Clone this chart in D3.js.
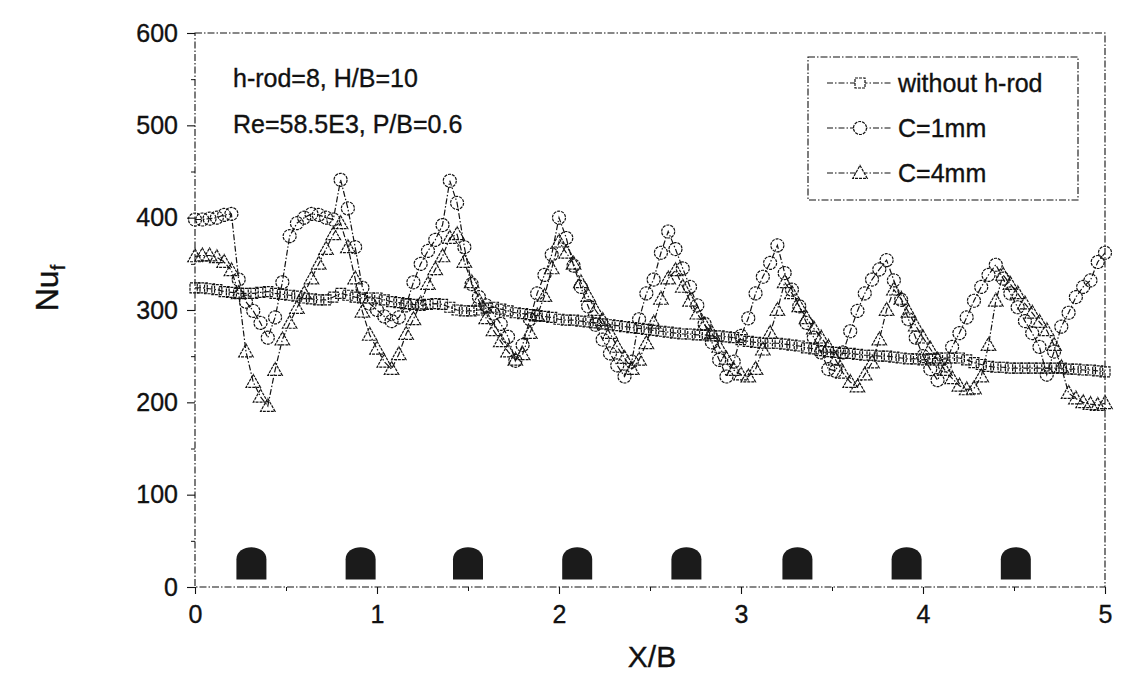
<!DOCTYPE html>
<html>
<head>
<meta charset="utf-8">
<script src="https://cdn.jsdelivr.net/npm/d3@7/dist/d3.min.js"></script>
<style>
  html, body { margin: 0; padding: 0; background: #fff; }
  svg { display: block; font-family: "Liberation Sans", Arial, sans-serif; }
  text { stroke: #111; stroke-width: 0.35px; }
</style>
</head>
<body>
<svg id="chart" width="1124" height="686"></svg>
<script>
// ---------- DATA ----------
const xValues = [0,0.04,0.08,0.12,0.16,0.2,0.24,0.28,0.32,0.36,0.4,0.44,0.48,0.52,0.56,0.6,0.64,0.68,0.72,0.76,
  0.8,0.84,0.88,0.92,0.96,1,1.04,1.08,1.12,1.16,1.2,1.24,1.28,1.32,1.36,1.4,1.44,1.48,1.52,1.56,
  1.6,1.64,1.68,1.72,1.76,1.8,1.84,1.88,1.92,1.96,2,2.04,2.08,2.12,2.16,2.2,2.24,2.28,2.32,2.36,
  2.4,2.44,2.48,2.52,2.56,2.6,2.64,2.68,2.72,2.76,2.8,2.84,2.88,2.92,2.96,3,3.04,3.08,3.12,3.16,
  3.2,3.24,3.28,3.32,3.36,3.4,3.44,3.48,3.52,3.56,3.6,3.64,3.68,3.72,3.76,3.8,3.84,3.88,3.92,3.96,
  4,4.04,4.08,4.12,4.16,4.2,4.24,4.28,4.32,4.36,4.4,4.44,4.48,4.52,4.56,4.6,4.64,4.68,4.72,4.76,
  4.8,4.84,4.88,4.92,4.96,5];

// without h-rod (squares)
const withoutRod = [324,324,323,322,320,319,318,318,318,319,320,318,317,316,315,313,312,311,311,314,
  318,316,314,313,313,313,311,309,308,307,306,305,306,307,306,303,300,299,299,300,
  302,303,301,299,297,296,295,294,293,292,290,289,289,288,287,286,285,284,283,282,
  281,280,279,278,277,276,275,274,274,273,273,272,272,271,270,268,266,265,264,264,
  264,263,262,261,259,258,256,255,254,253,253,252,251,251,250,250,249,248,247,247,
  246,247,248,248,248,248,246,243,241,239,238,238,237,237,237,237,237,237,237,237,
  236,236,235,235,234,233];

// C=1mm (circles)
const c1mm = [398,398,399,400,403,404,333,309,299,286,270,292,330,380,394,400,404,403,400,398,
  441,410,368,324,307,300,293,288,292,305,330,350,364,376,392,440,416,368,328,314,
  305,296,285,271,245,262,290,318,338,360,400,378,348,325,304,284,268,253,240,228,
  244,290,318,333,362,385,366,345,325,305,285,265,246,228,244,272,291,318,336,351,
  370,340,322,304,286,270,254,236,234,254,277,299,318,333,344,354,332,311,290,270,
  250,236,224,240,260,275,292,310,325,338,349,334,318,303,288,275,260,230,255,282,
  297,314,325,332,352,362];

// C=4mm (triangles)
const c4mm = [358,359,359,357,352,343,318,255,222,206,196,235,268,286,302,318,334,350,366,382,
  394,368,334,298,273,258,244,236,252,274,290,307,328,344,358,378,382,352,330,310,
  291,278,266,255,246,252,275,294,315,345,374,362,350,330,315,300,289,275,260,248,
  236,246,264,286,312,334,343,325,310,296,284,275,260,247,235,230,228,236,257,275,
  300,330,318,304,291,280,270,260,246,232,222,217,230,243,268,300,322,312,298,283,
  270,258,246,235,226,218,214,215,228,262,310,338,328,318,307,297,287,278,262,238,
  210,204,200,198,197,199];

// h-rod positions (X/B)
const rodPositions = [0.31, 0.91, 1.5, 2.1, 2.7, 3.31, 3.91, 4.51];
const rodHeight = [8, 43];   // Nu_f extent of the rod symbols

const xTicks = [0, 1, 2, 3, 4, 5];
const yTicks = [0, 100, 200, 300, 400, 500, 600];
const legendLabels = ["without h-rod", "C=1mm", "C=4mm"];
const annotations = ["h-rod=8, H/B=10", "Re=58.5E3, P/B=0.6"];

// ---------- CHART ----------
const svg = d3.select("#chart");
const L = 195, R = 1105, T = 33, B = 587;
const x = d3.scaleLinear().domain([0, 5]).range([L, R]);
const y = d3.scaleLinear().domain([0, 600]).range([B, T]);
const ink = "#111";

// frame
const frameDash = "7,2,1.5,2";
svg.append("rect").attr("x", L).attr("y", T).attr("width", R - L).attr("height", B - T)
  .attr("fill", "none").attr("stroke", ink).attr("stroke-width", 1.1).attr("stroke-dasharray", frameDash);

// axes
const xAxis = d3.axisBottom(x).tickValues(xTicks).tickFormat(d3.format("d")).tickSize(7).tickPadding(6);
const gx = svg.append("g").attr("transform", `translate(0,${B})`).call(xAxis);
const yAxis = d3.axisLeft(y).tickValues(yTicks).tickFormat(d3.format("d")).tickSize(8).tickPadding(9);
const gy = svg.append("g").attr("transform", `translate(${L},0)`).call(yAxis);
[gx, gy].forEach(g => {
  g.select(".domain").remove();
  g.selectAll(".tick line").attr("stroke", ink).attr("stroke-width", 1.1);
  g.selectAll(".tick text").attr("fill", ink).style("font-size", "25px")
    .style("font-family", "'Liberation Sans', Arial, sans-serif");
});
gx.selectAll(".tick text").attr("dy", "0.9em");
// minor ticks
const xMinor = d3.axisBottom(x).tickValues([0.5,1.5,2.5,3.5,4.5]).tickFormat("").tickSize(4);
svg.append("g").attr("transform", `translate(0,${B})`).call(xMinor)
  .call(g => { g.select(".domain").remove(); g.selectAll("line").attr("stroke", ink); });
const yMinor = d3.axisLeft(y).tickValues([50,150,250,350,450,550]).tickFormat("").tickSize(4);
svg.append("g").attr("transform", `translate(${L},0)`).call(yMinor)
  .call(g => { g.select(".domain").remove(); g.selectAll("line").attr("stroke", ink); });

// axis titles
svg.append("text").attr("x", (L + R) / 2 + 2).attr("y", 667).attr("text-anchor", "middle")
  .attr("fill", ink).style("font-size", "30px").text("X/B");
const yt = svg.append("text").attr("transform", `translate(58,${(T + B) / 2 - 22}) rotate(-90)`)
  .attr("text-anchor", "middle").attr("fill", ink).style("font-size", "32px");
yt.append("tspan").text("Nu");
yt.append("tspan").attr("dy", 7).style("font-size", "20px").text("f");

// annotations
annotations.forEach((t, i) => {
  svg.append("text").attr("x", 233).attr("y", 87 + i * 46).attr("fill", ink)
    .style("font-size", "25px").text(t);
});

// rods
const rodW = 30, rodR = 15;
svg.append("g").selectAll("path").data(rodPositions).join("path")
  .attr("d", d => {
    const cx = x(d), yb = y(rodHeight[0]), yt2 = y(rodHeight[1]);
    return `M${cx - rodW/2},${yb} L${cx - rodW/2},${yt2 + rodR*0.8} ` +
      `C${cx - rodW/2},${yt2 - 4} ${cx + rodW/2},${yt2 - 4} ${cx + rodW/2},${yt2 + rodR*0.8} L${cx + rodW/2},${yb} Z`;
  })
  .attr("fill", "#1b1b1b");

// series
const series = [
  { name: legendLabels[0], values: withoutRod, shape: "square" },
  { name: legendLabels[1], values: c1mm, shape: "circle" },
  { name: legendLabels[2], values: c4mm, shape: "triangle" }
];
const line = d3.line().x((d, i) => x(xValues[i])).y(d => y(d));
const lineDash = "6,2,1.5,2";
const markDash = "3,1";

function drawMarker(g, shape, cx, cy) {
  if (shape === "circle") {
    g.append("circle").attr("cx", cx).attr("cy", cy).attr("r", 6.5);
  } else if (shape === "square") {
    g.append("rect").attr("x", cx - 5).attr("y", cy - 5).attr("width", 10).attr("height", 10);
  } else {
    const s = 7.6;
    g.append("path").attr("d", `M${cx},${cy - s} L${cx + s * 0.95},${cy + s * 0.7} L${cx - s * 0.95},${cy + s * 0.7} Z`);
  }
}

series.forEach(s => {
  svg.append("path").datum(s.values).attr("d", line)
    .attr("fill", "none").attr("stroke", ink).attr("stroke-width", 1.2).attr("stroke-dasharray", lineDash);
  const g = svg.append("g").attr("fill", "none").attr("stroke", ink)
    .attr("stroke-width", 1.2).attr("stroke-dasharray", markDash);
  s.values.forEach((v, i) => drawMarker(g, s.shape, x(xValues[i]), y(v)));
});

// legend
const lg = svg.append("g");
lg.append("rect").attr("x", 808).attr("y", 57).attr("width", 270).attr("height", 143)
  .attr("fill", "#fff").attr("stroke", ink).attr("stroke-width", 1.1).attr("stroke-dasharray", frameDash);
series.forEach((s, i) => {
  const ry = 83 + i * 45;
  lg.append("line").attr("x1", 827).attr("x2", 892).attr("y1", ry).attr("y2", ry)
    .attr("stroke", ink).attr("stroke-width", 1.2).attr("stroke-dasharray", lineDash);
  const mg = lg.append("g").attr("fill", "#fff").attr("stroke", ink)
    .attr("stroke-width", 1.2).attr("stroke-dasharray", markDash);
  drawMarker(mg, s.shape, 860, ry);
  lg.append("text").attr("x", 898).attr("y", ry + 9).attr("fill", ink)
    .style("font-size", "25px").text(s.name);
});
</script>
</body>
</html>
